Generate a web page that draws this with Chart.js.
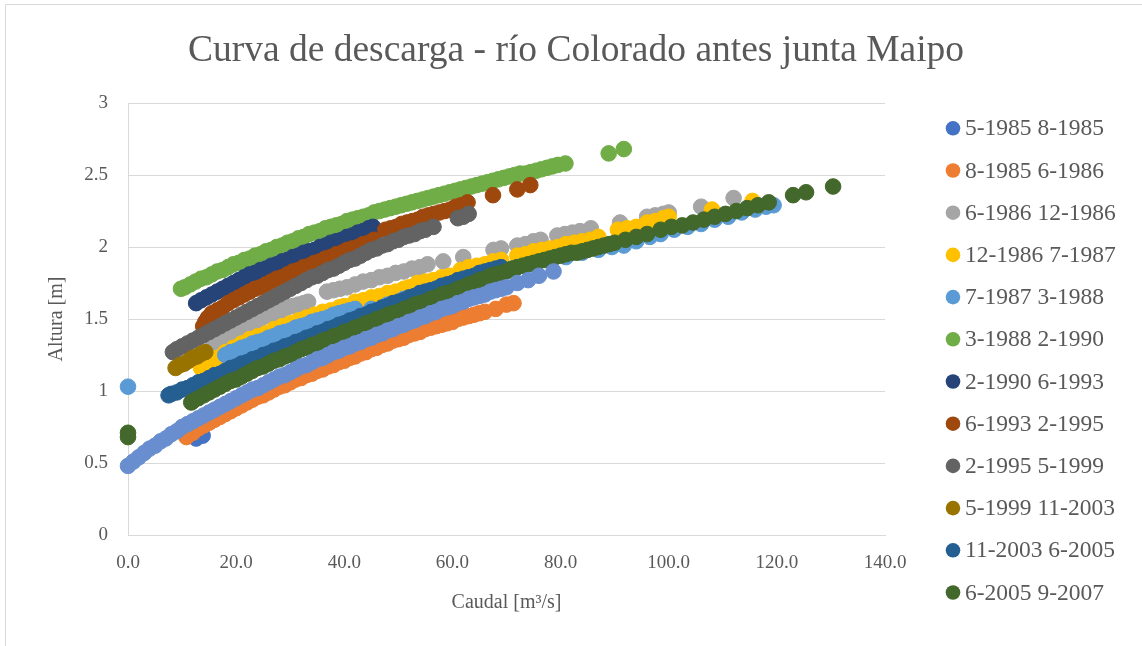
<!DOCTYPE html>
<html>
<head>
<meta charset="utf-8">
<script src="https://cdn.jsdelivr.net/npm/chart.js@4.4.0/dist/chart.umd.min.js"></script>
<style>
html, body { margin:0; padding:0; background:#fff; }
#wrap { width:1142px; height:646px; }
</style>
</head>
<body>
<div id="wrap"><canvas id="graf" width="1142" height="646"></canvas></div>
<script>
// leyenda (las 12 que se ven en la figura)
const etiquetas = ["5-1985 8-1985", "8-1985 6-1986", "6-1986 12-1986", "12-1986 7-1987",
  "7-1987 3-1988", "3-1988 2-1990", "2-1990 6-1993", "6-1993 2-1995",
  "2-1995 5-1999", "5-1999 11-2003", "11-2003 6-2005", "6-2005 9-2007"];

// puntos [caudal m3/s, altura m]
const s1 = [[12.6,0.67],[13.8,0.69]];
const s2 = [[10.8,0.68],[11,0.69],[12,0.71],[13,0.74],[14,0.76],[15,0.78],[16,0.80],[17,0.82],[18,0.84],[19,0.86],[20,0.88],[21,0.90],[22,0.92],[23,0.94],[24,0.96],[25,0.97],[26,0.99],[27,1.01],[28,1.03],[29,1.04],[30,1.06],[31,1.08],[32,1.09],[33,1.11],[34,1.12],[35,1.14],[36,1.15],[37,1.17],[38,1.18],[39,1.20],[40,1.21],[41,1.23],[42,1.24],[43,1.26],[44,1.27],[45,1.29],[46,1.30],[47,1.32],[48,1.33],[49,1.35],[50,1.36],[51,1.37],[52,1.39],[53,1.40],[54,1.41],[55,1.43],[56,1.44],[57,1.45],[58,1.46],[59,1.47],[60,1.48],[61,1.50],[62,1.51],[63,1.52],[64,1.53],[65,1.54],[66,1.55],[68,1.57],[70,1.60],[71.3,1.61]];
const s3 = [[15.6,1.33],[16.5,1.35],[17.5,1.37],[18.5,1.39],[19.5,1.41],[20.5,1.43],[21.5,1.45],[22.5,1.46],[23.5,1.48],[24.5,1.50],[25.5,1.52],[26.5,1.53],[27.5,1.55],[28.5,1.56],[29.5,1.58],[30.5,1.59],[31.5,1.60],[32.5,1.61],[33.3,1.62],[36.8,1.69],[38,1.70],[39.2,1.71],[40.5,1.72],[42,1.74],[43.5,1.76],[45,1.77],[46.5,1.79],[48,1.80],[49.5,1.82],[51,1.83],[52.5,1.85],[54,1.86],[55.4,1.88],[58.3,1.90],[62,1.93],[67.6,1.98],[69,1.99],[72,2.01],[73.5,2.02],[75,2.04],[76.3,2.05],[79.4,2.08],[80.8,2.09],[82.2,2.10],[83.6,2.11],[85.6,2.13],[91,2.17],[96,2.21],[97.5,2.22],[99,2.23],[100,2.24],[106,2.28],[112,2.34]];
const s4 = [[13.5,1.16],[15,1.20],[16.5,1.23],[18,1.27],[19.5,1.30],[21,1.33],[22.5,1.36],[24,1.38],[25.5,1.40],[27,1.43],[28.5,1.45],[30,1.47],[31.5,1.49],[33,1.51],[34.5,1.53],[36,1.55],[37.5,1.56],[39,1.58],[40,1.59],[42,1.62],[43.5,1.63],[45,1.65],[46.5,1.66],[48,1.68],[49.5,1.69],[51,1.71],[52,1.72],[53.5,1.75],[55,1.76],[56.5,1.77],[58,1.79],[59.5,1.80],[61.5,1.84],[63,1.86],[64.5,1.87],[66,1.88],[67.5,1.90],[69,1.91],[72,1.94],[73.5,1.95],[75,1.97],[76.5,1.98],[78,1.99],[79.5,2.00],[81,2.02],[82.5,2.03],[84,2.04],[85.5,2.05],[87,2.07],[90.6,2.12],[92.3,2.13],[94,2.14],[96,2.17],[97.5,2.18],[99,2.20],[100,2.21],[108,2.26],[115.5,2.32]];
const s5 = [[0,1.03],[18,1.25],[19,1.27],[20,1.28],[21,1.30],[22,1.31],[23,1.33],[24,1.34],[25,1.35],[26,1.37],[27,1.38],[28,1.40],[29,1.41],[30,1.42],[31,1.44],[32,1.45],[33,1.46],[34,1.48],[35,1.49],[36,1.50],[37,1.51],[38,1.53],[39,1.54],[40,1.55],[41,1.56],[42,1.57],[45,1.57],[48,1.60],[51,1.64],[54,1.68],[57,1.71],[60,1.74],[63,1.78],[66,1.81],[69,1.84],[72,1.86],[75,1.88],[78,1.91],[81,1.93],[84,1.96],[87,1.98],[89.5,2.00],[91.7,2.01],[94,2.04],[96.5,2.07],[98.5,2.09],[101,2.12],[103.5,2.14],[106,2.16],[108.5,2.19],[111,2.21],[113.5,2.24],[116,2.26],[118,2.28],[119.4,2.29]];
const s6 = [[9.8,1.71],[10.5,1.72],[11.5,1.74],[12.5,1.76],[13.5,1.78],[14.5,1.79],[15.5,1.81],[16.5,1.83],[17.5,1.84],[18.5,1.86],[19.5,1.88],[20.5,1.89],[21.5,1.91],[22.5,1.92],[23.5,1.94],[24.5,1.95],[25.5,1.97],[26.5,1.98],[27.5,2.00],[28.5,2.01],[29.5,2.03],[30.5,2.04],[31.5,2.06],[32.5,2.07],[33.5,2.09],[34.5,2.10],[35.5,2.11],[36.5,2.13],[37.5,2.14],[38.5,2.15],[39.5,2.16],[40.5,2.18],[41.5,2.19],[42.5,2.20],[43.5,2.21],[44.5,2.22],[45.5,2.24],[46.5,2.25],[47.5,2.26],[48.5,2.27],[49.5,2.28],[50.5,2.29],[51.5,2.30],[52.5,2.31],[53.5,2.32],[54.5,2.33],[55.5,2.34],[56.5,2.35],[57.5,2.36],[58.5,2.37],[59.5,2.38],[60.5,2.39],[61.5,2.40],[62.5,2.41],[63.5,2.42],[64.5,2.43],[65.5,2.44],[66.5,2.45],[67.5,2.46],[68.5,2.47],[69.5,2.48],[70.5,2.49],[71.5,2.50],[72.5,2.51],[73.5,2.51],[74.5,2.52],[75.5,2.53],[76.5,2.54],[77.5,2.55],[78.5,2.56],[79.5,2.57],[80.9,2.58],[88.9,2.65],[91.7,2.68]];
const s7 = [[12.6,1.61],[13.5,1.63],[14.5,1.65],[15.5,1.67],[16.5,1.69],[17.5,1.71],[18.5,1.73],[19.5,1.75],[20.5,1.77],[21.5,1.79],[22.5,1.81],[23.5,1.82],[24.5,1.84],[25.5,1.85],[26.5,1.87],[27.5,1.88],[28.5,1.90],[29.5,1.91],[30.5,1.93],[31.5,1.94],[32.5,1.96],[33.5,1.97],[34.5,1.98],[35.5,2.00],[36.5,2.01],[37.5,2.03],[38.5,2.04],[39.5,2.05],[40.5,2.07],[41.5,2.08],[42.5,2.10],[43.5,2.11],[44.5,2.13],[45.3,2.14]];
const s8 = [[13.9,1.45],[14.3,1.48],[14.8,1.51],[15.5,1.54],[16.5,1.56],[17.5,1.58],[18.5,1.61],[19.5,1.63],[20.5,1.65],[21.5,1.67],[22.5,1.69],[23.5,1.71],[24.5,1.72],[25.5,1.74],[26.5,1.76],[27.5,1.78],[28.5,1.79],[29.5,1.81],[30.5,1.83],[31.5,1.84],[32.5,1.86],[33.5,1.87],[34.5,1.89],[35.5,1.90],[36.5,1.92],[37.5,1.93],[38.5,1.95],[39.5,1.96],[40.5,1.98],[41.5,1.99],[42.5,2.00],[43.5,2.02],[44.5,2.03],[45.5,2.05],[47.6,2.12],[48.6,2.13],[49.6,2.14],[50.6,2.16],[51.6,2.17],[52.6,2.18],[53.6,2.19],[54.6,2.21],[55.6,2.22],[56.6,2.23],[57.6,2.24],[58.6,2.25],[59.6,2.26],[60.6,2.28],[61.6,2.29],[62.8,2.31],[67.5,2.36],[72,2.40],[74.4,2.43]];
const s9 = [[8.3,1.27],[9,1.29],[10,1.31],[11,1.33],[12,1.35],[13,1.37],[14,1.39],[15,1.41],[16,1.43],[17,1.45],[18,1.47],[19,1.49],[20,1.51],[21,1.53],[22,1.55],[23,1.57],[24,1.59],[25,1.61],[26,1.63],[27,1.65],[28,1.67],[29,1.69],[30,1.71],[31,1.73],[32,1.75],[33,1.77],[34,1.79],[35,1.80],[36,1.82],[37,1.84],[38,1.85],[39,1.87],[40,1.89],[41,1.91],[42,1.92],[43,1.94],[44,1.96],[45,1.98],[46,1.99],[47,2.01],[48,2.02],[49,2.04],[50,2.05],[51,2.07],[52,2.08],[53,2.09],[54,2.11],[55,2.12],[56.5,2.14],[61,2.20],[62,2.21],[63,2.23]];
const s10 = [[8.8,1.16],[9.6,1.18],[10.4,1.19],[11.2,1.21],[12,1.23],[12.8,1.24],[13.6,1.26],[14.3,1.27]];
const s11 = [[7.5,0.97],[8,0.98],[9,0.99],[10,1.01],[11,1.02],[12,1.04],[13,1.06],[14,1.07],[15,1.09],[16,1.11],[17,1.12],[18,1.14],[19,1.16],[20,1.17],[21,1.19],[22,1.20],[23,1.22],[24,1.23],[25,1.25],[26,1.26],[27,1.28],[28,1.29],[29,1.31],[30,1.32],[31,1.34],[32,1.35],[33,1.37],[34,1.38],[35,1.40],[36,1.41],[37,1.43],[38,1.44],[39,1.46],[40,1.47],[41,1.49],[42,1.50],[43,1.52],[44,1.53],[45,1.55],[46,1.56],[47,1.58],[48,1.59],[49,1.61],[50,1.62],[51,1.63],[52,1.65],[53,1.66],[54,1.68],[55,1.69],[56,1.70],[57,1.71],[58,1.73],[59,1.74],[60,1.75],[61,1.77],[62,1.78],[63,1.79],[64,1.80],[65,1.82],[66,1.83],[67,1.84],[68,1.85],[69,1.86]];
const s12 = [[0,0.71],[0,0.68],[11.7,0.92],[12,0.93],[13,0.95],[14,0.97],[15,0.99],[16,1.01],[17,1.03],[18,1.05],[19,1.07],[20,1.08],[21,1.10],[22,1.12],[23,1.14],[24,1.16],[25,1.17],[26,1.19],[27,1.21],[28,1.22],[29,1.24],[30,1.25],[31,1.27],[32,1.29],[33,1.30],[34,1.32],[35,1.33],[36,1.35],[37,1.36],[38,1.38],[39,1.39],[40,1.41],[41,1.42],[42,1.44],[43,1.45],[44,1.47],[45,1.48],[46,1.50],[47,1.51],[48,1.53],[49,1.54],[50,1.55],[51,1.57],[52,1.58],[53,1.60],[54,1.61],[55,1.62],[56,1.64],[57,1.65],[58,1.67],[59,1.68],[60,1.69],[61,1.71],[62,1.72],[63,1.74],[64,1.75],[65,1.77],[66,1.78],[67,1.80],[68,1.81],[69,1.82],[70,1.83],[71,1.85],[72,1.86],[73,1.87],[74,1.88],[75,1.89],[76,1.90],[77,1.91],[78,1.92],[79,1.93],[80,1.94],[81,1.95],[82,1.96],[83,1.96],[84,1.97],[85,1.98],[86,1.99],[87,2.00],[88,2.01],[89,2.02],[90,2.03],[92,2.05],[94,2.07],[96,2.09],[98.5,2.12],[100.5,2.14],[102.5,2.15],[104.5,2.17],[106.5,2.19],[108.5,2.21],[110.5,2.23],[112.5,2.25],[114.5,2.27],[116.5,2.29],[118.5,2.31],[123,2.36],[125.4,2.38],[130.4,2.42]];
// serie 13: en el grafico no alcanza a salir en la leyenda
const s13 = [[0,0.48],[1,0.51],[2,0.54],[3,0.57],[4,0.60],[5,0.62],[6,0.65],[7,0.67],[8,0.70],[9,0.72],[10,0.75],[11,0.77],[12,0.79],[13,0.81],[14,0.83],[15,0.85],[16,0.87],[17,0.89],[18,0.91],[19,0.93],[20,0.95],[21,0.97],[22,0.99],[23,1.01],[24,1.02],[25,1.04],[26,1.06],[27,1.08],[28,1.10],[29,1.11],[30,1.13],[31,1.15],[32,1.17],[33,1.18],[34,1.20],[35,1.22],[36,1.23],[37,1.25],[38,1.27],[39,1.28],[40,1.30],[41,1.31],[42,1.33],[43,1.34],[44,1.36],[45,1.37],[46,1.39],[47,1.40],[48,1.42],[49,1.43],[50,1.45],[51,1.46],[52,1.48],[53,1.49],[54,1.51],[55,1.52],[56,1.54],[57,1.55],[58,1.57],[59,1.58],[60,1.59],[61,1.61],[62,1.62],[63,1.64],[64,1.65],[65,1.66],[66,1.67],[67,1.69],[68,1.70],[69,1.71],[70,1.72],[72,1.75],[74,1.77],[76,1.80],[78.7,1.83]];

const series = [s1, s2, s3, s4, s5, s6, s7, s8, s9, s10, s11, s12, s13];
const colores = ['#4472C4','#ED7D31','#A5A5A5','#FFC000','#5B9BD5','#70AD47','#264478','#9E480E','#636363','#997300','#255E91','#43682B','#698ED0'];

const fuente = "'Liberation Serif', 'Times New Roman', serif";
const gris = '#595959';

var datasets = [];
for (let i = 0; i < series.length; i++) {
  datasets.push({
    label: etiquetas[i] || '',
    data: series[i].map(p => ({x: p[0], y: p[1]})),
    backgroundColor: colores[i],
    borderColor: colores[i],
    pointRadius: 7.8,
    pointBorderWidth: 1,
    pointHoverRadius: 7.8,
    showLine: false,
    clip: false,
    order: 20 - i   // como excel: la ultima serie queda encima
  });
}

// fondo blanco y marco
const fondo = {
  id: 'fondo',
  beforeDraw(chart) {
    const ctx = chart.ctx;
    ctx.save();
    ctx.fillStyle = '#fff';
    ctx.fillRect(0, 0, chart.width, chart.height);
    ctx.strokeStyle = '#d9d9d9';
    ctx.lineWidth = 1;
    ctx.beginPath();
    ctx.moveTo(5.5, chart.height);
    ctx.lineTo(5.5, 4.5);
    ctx.lineTo(chart.width, 4.5);
    ctx.stroke();
    ctx.restore();
  }
};

// leyenda a la derecha
const leyenda = {
  id: 'leyenda',
  afterDraw(chart) {
    const ctx = chart.ctx;
    ctx.save();
    ctx.font = '23.5px ' + fuente;
    ctx.textBaseline = 'middle';
    ctx.textAlign = 'left';
    for (let i = 0; i < etiquetas.length; i++) {
      const y = 128.3 + i * 42.2;
      ctx.fillStyle = colores[i];
      ctx.beginPath();
      ctx.arc(953, y, 7.3, 0, Math.PI * 2);
      ctx.fill();
      ctx.fillStyle = gris;
      ctx.fillText(etiquetas[i], 965, y + 1);
    }
    ctx.restore();
  }
};

new Chart(document.getElementById('graf'), {
  type: 'scatter',
  data: { datasets: datasets },
  plugins: [fondo, leyenda],
  options: {
    responsive: false,
    animation: false,
    layout: { padding: { top: 10, left: 10, right: 0, bottom: 21 } },
    plugins: {
      legend: { display: false },
      tooltip: { enabled: false },
      title: {
        display: true,
        text: 'Curva de descarga - río Colorado antes junta Maipo',
        color: gris,
        font: { family: fuente, size: 37.5, weight: 'normal' },
        padding: { top: 19, bottom: 29 }
      }
    },
    scales: {
      x: {
        type: 'linear',
        min: 0, max: 140,
        ticks: {
          stepSize: 20, maxRotation: 0, padding: 17, color: gris,
          font: { family: fuente, size: 19 },
          callback: v => v.toFixed(1)
        },
        grid: { display: false, drawTicks: false },
        border: { display: true, color: '#d9d9d9' },
        title: {
          display: true, text: 'Caudal [m³/s]', color: gris,
          font: { family: fuente, size: 20 },
          padding: { top: 0, bottom: 10 }
        },
        afterFit(s) { s.height = 90; }
      },
      y: {
        min: 0, max: 3,
        ticks: {
          stepSize: 0.5, padding: 20, color: gris,
          font: { family: fuente, size: 19 },
          callback: v => String(v)
        },
        grid: { color: '#d9d9d9', drawTicks: false },
        border: { display: true, color: '#d9d9d9' },
        title: {
          display: true, text: 'Altura [m]', color: gris,
          font: { family: fuente, size: 20 },
          padding: { top: 35, bottom: 0 }
        },
        afterFit(s) { s.width = 118; }
      },
      hueco: {
        // espacio reservado para la leyenda
        position: 'right',
        display: true,
        ticks: { display: false },
        grid: { display: false, drawTicks: false },
        border: { display: false },
        afterFit(s) { s.width = 257; }
      }
    }
  }
});
</script>
</body>
</html>
